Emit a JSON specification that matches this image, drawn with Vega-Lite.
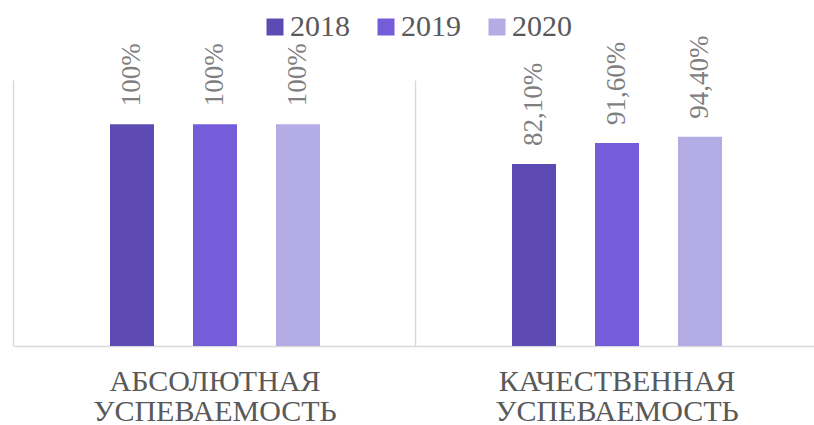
{
  "$schema": "https://vega.github.io/schema/vega-lite/v6.json",
  "width": 804,
  "height": 266,
  "autosize": "none",
  "padding": {"left": 14, "top": 80, "right": 0, "bottom": 79},
  "background": "white",
  "config": {
    "view": {"stroke": null},
    "legend": {"labelFont": "Liberation Serif", "layout": {"top": {"anchor": "middle"}}}
  },
  "data": {
    "values": [
      {"cat": "АБСОЛЮТНАЯ УСПЕВАЕМОСТЬ", "year": "2018", "value": 1.0, "label": "100%"},
      {"cat": "АБСОЛЮТНАЯ УСПЕВАЕМОСТЬ", "year": "2019", "value": 1.0, "label": "100%"},
      {"cat": "АБСОЛЮТНАЯ УСПЕВАЕМОСТЬ", "year": "2020", "value": 1.0, "label": "100%"},
      {"cat": "КАЧЕСТВЕННАЯ УСПЕВАЕМОСТЬ", "year": "2018", "value": 0.821, "label": "82,10%"},
      {"cat": "КАЧЕСТВЕННАЯ УСПЕВАЕМОСТЬ", "year": "2019", "value": 0.916, "label": "91,60%"},
      {"cat": "КАЧЕСТВЕННАЯ УСПЕВАЕМОСТЬ", "year": "2020", "value": 0.944, "label": "94,40%"}
    ]
  },
  "encoding": {
    "x": {
      "field": "cat", "type": "nominal", "sort": null,
      "scale": {"paddingInner": 0.0647, "paddingOuter": 0.03235},
      "axis": {
        "title": null, "labelAngle": 0, "ticks": false, "grid": true, "bandPosition": -0.0346,
        "gridColor": "#d9d9d9", "gridWidth": 1.5, "domainColor": "#d9d9d9", "domainWidth": 1.5,
        "labelExpr": "split(datum.label, ' ')",
        "labelFont": "Liberation Serif", "labelFontSize": 30, "labelColor": "#595959",
        "labelLineHeight": 30, "labelBaseline": "top", "labelPadding": 20, "labelLimit": 0
      }
    },
    "xOffset": {"field": "year", "type": "nominal", "scale": {"paddingInner": 0.47, "paddingOuter": 1}},
    "y": {"field": "value", "type": "quantitative", "scale": {"domain": [0, 1.2]}, "axis": null}
  },
  "layer": [
    {
      "mark": {"type": "bar"},
      "encoding": {
        "color": {
          "field": "year", "type": "nominal",
          "scale": {"domain": ["2018", "2019", "2020"], "range": ["#5E4AB3", "#755CD9", "#B4ADE5"]},
          "legend": {
            "orient": "top", "direction": "horizontal", "title": null, "offset": 38,
            "labelFont": "Liberation Serif", "labelFontSize": 30, "labelColor": "#595959",
            "symbolType": "square", "symbolSize": 289, "symbolStrokeWidth": 0,
            "columnPadding": 21, "labelOffset": 0
          }
        }
      }
    },
    {
      "mark": {"type": "text", "angle": 270, "align": "left", "baseline": "middle", "dx": 18,
               "font": "Liberation Serif", "fontSize": 27, "color": "#7f7f7f"},
      "encoding": {"text": {"field": "label"}}
    }
  ]
}
